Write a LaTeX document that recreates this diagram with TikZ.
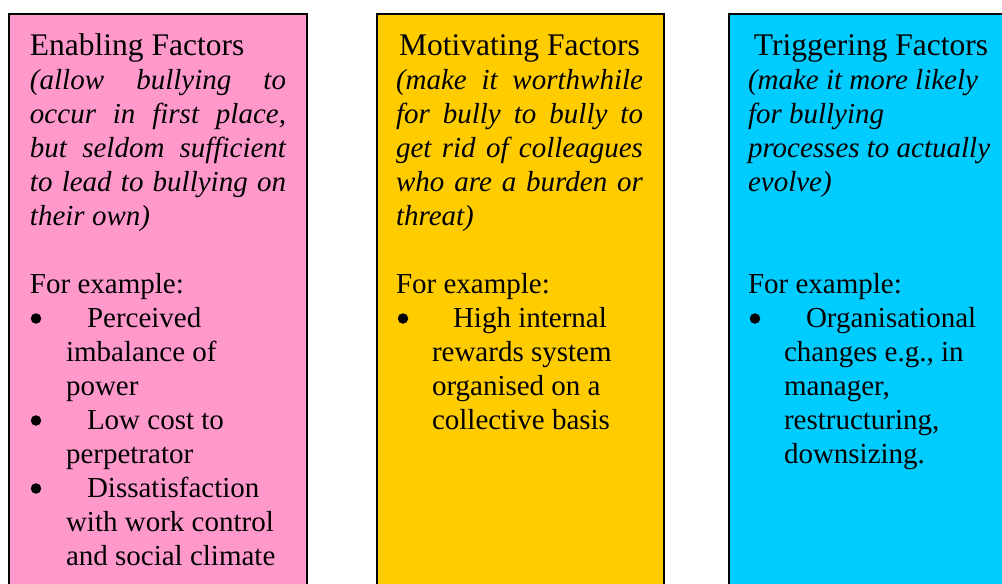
\documentclass[tikz,border=0pt]{standalone}
\usepackage{fontspec}
\setmainfont{Liberation Serif}
\definecolor{pinkbox}{HTML}{FF99CC}
\definecolor{yellowbox}{HTML}{FFCC00}
\definecolor{cyanbox}{HTML}{00CCFF}
\tikzset{
  panel/.style={draw=black, line width=2pt},
  ln/.style={anchor=base west, inner sep=0pt, outer sep=0pt, font=\fontsize{29}{34}\selectfont},
  itl/.style={ln, font=\fontsize{29}{34}\selectfont\itshape},
  hd/.style={anchor=base, inner sep=0pt, outer sep=0pt, font=\fontsize{31.5}{34}\selectfont},
  dot/.style={circle, fill=black, inner sep=0pt, minimum size=10.5pt},
}
\begin{document}
\begin{tikzpicture}[x=1pt,y=-1pt]
\useasboundingbox (0,0) rectangle (1002,584);
\clip (0,0) rectangle (1002,584);
% panels
\draw[panel, fill=pinkbox] (8.5,13.5) rectangle (307,620);
\draw[panel, fill=yellowbox] (376.5,13.5) rectangle (663.5,620);
\draw[panel, fill=cyanbox] (728.5,13.5) rectangle (1020,620);
% ---- Enabling
\node[hd, anchor=base west] (eh) at (30,55) {Enabling Factors};
\node[itl] (e2) at (30,89) {\makebox[256pt][s]{(allow bullying to}};
\node[itl] (e3) at (30,123) {\makebox[256pt][s]{occur in first place,}};
\node[itl] (e4) at (30,157) {\makebox[256pt][s]{but seldom sufficient}};
\node[itl] (e5) at (30,191) {\makebox[256pt][s]{to lead to bullying on}};
\node[itl] (e6) at (30,225) {their own)};
\node[ln] (e8) at (30,293) {For example:};
\node[dot] (eb1) at (36,318.5) {};
\node[ln] (e9) at (87,327) {Perceived};
\node[ln] (e10) at (66,361) {imbalance of};
\node[ln] (e11) at (66,395) {power};
\node[dot] (eb2) at (36,420.5) {};
\node[ln] (e12) at (87,429) {Low cost to};
\node[ln] (e13) at (66,463) {perpetrator};
\node[dot] (eb3) at (36,488.5) {};
\node[ln] (e14) at (87,497) {Dissatisfaction};
\node[ln] (e15) at (66,531) {with work control};
\node[ln] (e16) at (66,565) {and social climate};
% ---- Motivating
\node[hd] (mh) at (519.5,55) {Motivating Factors};
\node[itl] (m2) at (396,89) {\makebox[247pt][s]{(make it worthwhile}};
\node[itl] (m3) at (396,123) {\makebox[247pt][s]{for bully to bully to}};
\node[itl] (m4) at (396,157) {\makebox[247pt][s]{get rid of colleagues}};
\node[itl] (m5) at (396,191) {\makebox[247pt][s]{who are a burden or}};
\node[itl] (m6) at (396,225) {threat)};
\node[ln] (m8) at (396,293) {For example:};
\node[dot] (mb1) at (403,318.5) {};
\node[ln] (m9) at (453,327) {High internal};
\node[ln] (m10) at (432,361) {rewards system};
\node[ln] (m11) at (432,395) {organised on a};
\node[ln] (m12) at (432,429) {collective basis};
% ---- Triggering
\node[hd] (th) at (871,55) {Triggering Factors};
\node[itl] (t2) at (748,89) {(make it more likely};
\node[itl] (t3) at (748,123) {for bullying};
\node[itl] (t4) at (748,157) {processes to actually};
\node[itl] (t5) at (748,191) {evolve)};
\node[ln] (t8) at (748,293) {For example:};
\node[dot] (tb1) at (755,318.5) {};
\node[ln] (t9) at (806,327) {Organisational};
\node[ln] (t10) at (784,361) {changes e.g., in};
\node[ln] (t11) at (784,395) {manager,};
\node[ln] (t12) at (784,429) {restructuring,};
\node[ln] (t13) at (784,463) {downsizing.};
\end{tikzpicture}
\end{document}
